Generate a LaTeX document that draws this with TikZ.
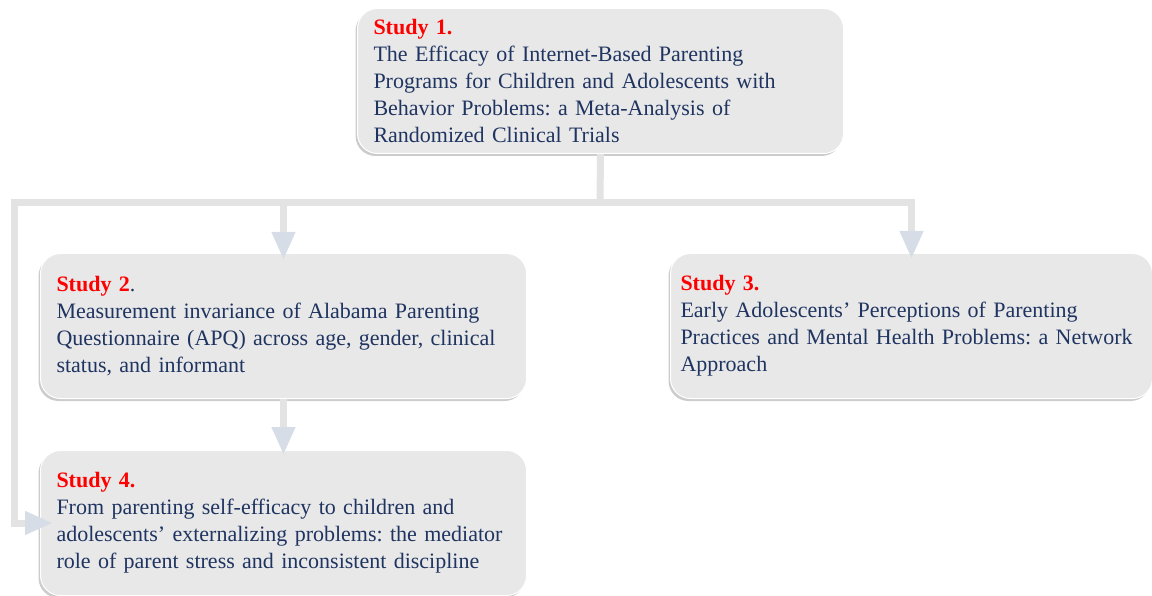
\documentclass[tikz,border=0pt]{standalone}
\usepackage{fontspec}
\setmainfont{Liberation Serif}
\usetikzlibrary{arrows.meta,shadows}
\definecolor{navy}{RGB}{31,52,96}
\definecolor{studyred}{RGB}{255,0,0}
\definecolor{bargray}{RGB}{227,227,227}
\definecolor{tipblue}{RGB}{214,221,231}
\definecolor{boxgray}{RGB}{232,232,232}
\newcommand{\studyhead}[1]{\textcolor{studyred}{\textbf{#1}}}
\frenchspacing

\begin{document}
\begin{tikzpicture}[
  x=1pt, y=-1pt,
  study/.style={draw=white, line width=1pt, fill=boxgray, rounded corners=20pt, align=left, text width=454pt, minimum height=145pt, inner xsep=16pt, inner ysep=0pt, anchor=north west, font=\fontsize{22}{27}\selectfont, text=navy, drop shadow={opacity=0.4, shadow xshift=-2pt, shadow yshift=-2.5pt}},
  bar/.style={draw=bargray, line width=7pt},
  ar/.style={bar, -{Triangle[length=28pt, width=22pt, color=tipblue]}}
]
\useasboundingbox (0,0) rectangle (1152,596);
\node[study] (s1) at (357,8) {\studyhead{Study 1.}\\The Efficacy of Internet-Based Parenting\\Programs for Children and Adolescents with\\Behavior Problems: a Meta-Analysis of\\Randomized Clinical Trials};
\node[study] (s2) at (40,253) {\studyhead{Study 2}.\\Measurement invariance of Alabama Parenting\\Questionnaire (APQ) across age, gender, clinical\\status, and informant};
\node[study, text width=462pt, inner xsep=10pt] (s3) at (670,253) {\studyhead{Study 3.}\\Early Adolescents’ Perceptions of Parenting\\Practices and Mental Health Problems: a Network\\Approach};
\node[study] (s4) at (40,450) {\studyhead{Study 4.}\\From parenting self-efficacy to children and\\adolescents’ externalizing problems: the mediator\\role of parent stress and inconsistent discipline};
% connectors
\coordinate (split) at (600,203);
\coordinate (corner) at (14,203);
\draw[bar] (s1.south) -- (split);
\draw[ar, shorten >=-7pt] (split) -| (s2.north);
\draw[ar, shorten >=-6pt] (split) -| (s3.north);
\draw[ar, shorten >=-13pt] (split) -- (corner) |- (s4.west);
\draw[ar, shorten >=-5pt] (s2.south) -- (s4.north);
\end{tikzpicture}
\end{document}
